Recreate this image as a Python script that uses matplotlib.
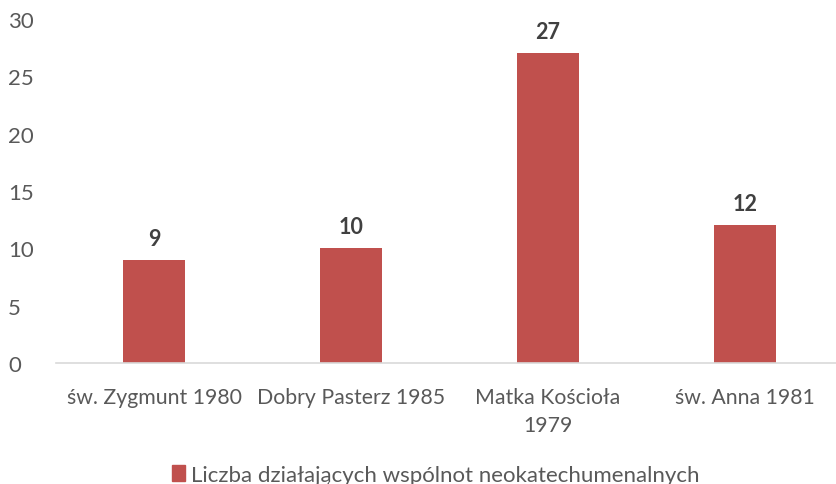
import matplotlib
matplotlib.use("Agg")
import matplotlib.pyplot as plt
from matplotlib.patches import Patch

categories = ["św. Zygmunt 1980", "Dobry Pasterz 1985", "Matka Kościoła\n1979", "św. Anna 1981"]
values = [9, 10, 27, 12]
series_name = "Liczba działających wspólnot neokatechumenalnych"
yticks = [0, 5, 10, 15, 20, 25, 30]

bar_color = "#C0504D"
plt.rcParams['font.family'] = ['Lato', 'DejaVu Sans']

W, H = 837, 485
fig = plt.figure(figsize=(W / 100, H / 100), dpi=100)
ax = fig.add_axes([56 / W, 121 / H, (843 - 56) / W, (465 - 121) / H])

x = list(range(len(categories)))
ax.bar(x, values, width=0.315, color=bar_color)
for xi, v in zip(x, values):
    ax.annotate(str(v), (xi, v), xytext=(0, 8), textcoords="offset points",
                ha="center", va="bottom", fontsize=15.5, fontweight="bold", color="#404040")

ax.set_xlim(-0.5, len(categories) - 0.5)
ax.set_ylim(0, 30)
ax.set_yticks(yticks)
ax.set_xticks(x)
ax.set_xticklabels(categories, linespacing=1.5)
ax.tick_params(axis="both", length=0, labelcolor="#595959")
ax.tick_params(axis="y", pad=34.5, labelsize=16)
ax.tick_params(axis="x", pad=17, labelsize=15.3)
for lbl in ax.get_yticklabels():
    lbl.set_horizontalalignment("left")

for s in ["top", "right", "left"]:
    ax.spines[s].set_visible(False)
ax.spines["bottom"].set_color("#D9D9D9")
ax.spines["bottom"].set_linewidth(1.2)

fig.legend(handles=[Patch(color=bar_color, label=series_name)], loc="center",
           bbox_to_anchor=(436 / W, 1 - 476 / H), frameon=False, fontsize=16,
           handlelength=0.55, handleheight=0.7, handletextpad=0.3, labelcolor="#595959",
           borderpad=0, borderaxespad=0)

fig.savefig("out.png", dpi=100)
